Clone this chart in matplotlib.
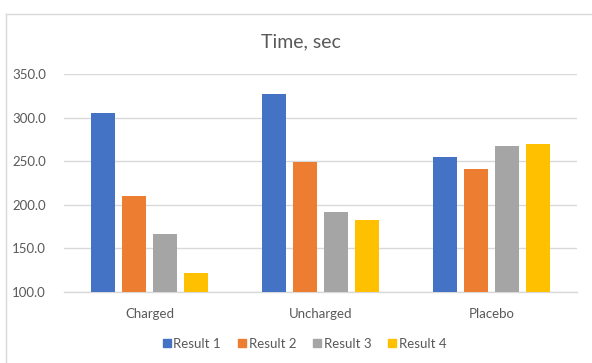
import matplotlib
matplotlib.use("Agg")
import matplotlib.pyplot as plt
import numpy as np
from matplotlib.lines import Line2D

categories = ["Charged", "Uncharged", "Placebo"]
series_names = ["Result 1", "Result 2", "Result 3", "Result 4"]
result1 = [306, 327, 255]
result2 = [210, 249, 241]
result3 = [166, 192, 268]
result4 = [121, 182, 270]
colors = ["#4472C4", "#ED7D31", "#A5A5A5", "#FFC000"]
yticks = [100, 150, 200, 250, 300, 350]

plt.rcParams['font.family'] = ['Lato', 'DejaVu Sans']
W, H = 592, 363
fig = plt.figure(figsize=(W / 100, H / 100), dpi=100)
ax = fig.add_axes([64 / W, 1 - 291.7 / H, (577 - 64) / W, (291.7 - 74.3) / H])

x = np.arange(len(categories))
width = 0.14
step = 0.1795
data = [result1, result2, result3, result4]
for i, (vals, c, name) in enumerate(zip(data, colors, series_names)):
    ax.bar(x + (i - 1.5) * step, np.array(vals) - 100, bottom=100, width=width,
           color=c, label=name, zorder=3, edgecolor='none')

ax.set_xlim(-0.5, 2.5)
ax.set_ylim(100, 350)
ax.set_yticks(yticks)
ax.set_yticklabels([f"{v:.1f}" for v in yticks])
ax.set_xticks(x)
ax.set_xticklabels(categories)
ax.tick_params(axis='both', length=0, colors='#595959', labelsize=9.5)
ax.tick_params(axis='y', pad=13)
ax.tick_params(axis='x', pad=12)
ax.grid(axis='y', color='#D9D9D9', linewidth=1.0, zorder=0)
for s in ['top', 'right', 'left']:
    ax.spines[s].set_visible(False)
ax.spines['bottom'].set_color('#D9D9D9')
ax.spines['bottom'].set_linewidth(1.0)

fig.text(301 / W, 1 - 42 / H, "Time, sec", ha='center', va='center',
         fontsize=14, color='#595959')

handles = [Line2D([], [], marker='s', linestyle='none', markersize=6,
                  markerfacecolor=c, markeredgecolor=c) for c in colors]
fig.legend(handles, series_names, loc='center', bbox_to_anchor=(304 / W, 1 - 344 / H),
           ncol=4, frameon=False, fontsize=9.5, handletextpad=0.1,
           columnspacing=1.2, handlelength=0.8, labelcolor='#595959')

# chart border (top and left edges visible)
fig.add_artist(Line2D([6 / W, 1], [1 - 14 / H, 1 - 14 / H], color='#D9D9D9', linewidth=1.0))
fig.add_artist(Line2D([6 / W, 6 / W], [0, 1 - 14 / H], color='#D9D9D9', linewidth=1.0))

fig.savefig("out.png", dpi=100)
